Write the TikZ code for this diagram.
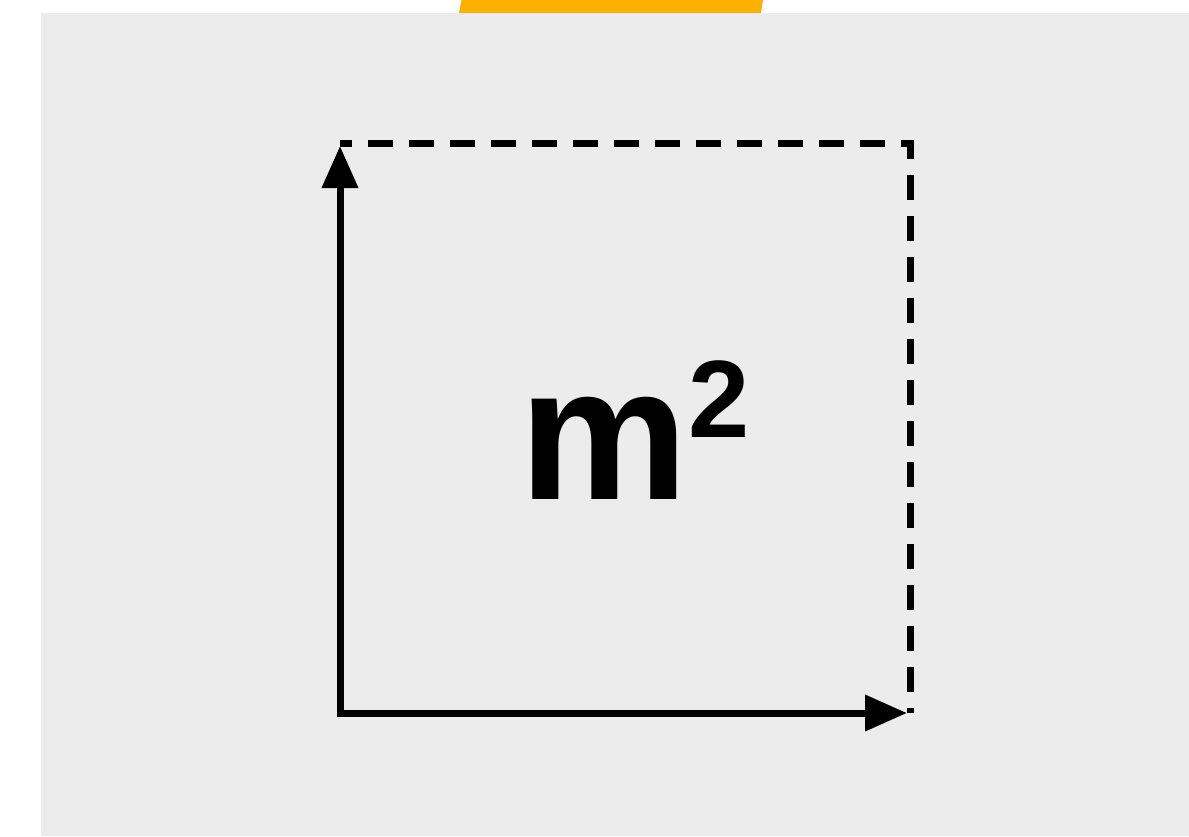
\documentclass[tikz,border=0pt]{standalone}
\usepackage{fontspec}
\setmainfont{Liberation Sans}
\usetikzlibrary{arrows.meta}
\definecolor{bggray}{HTML}{ECECEC}
\definecolor{tabor}{HTML}{FBB100}
\tikzset{
  axisline/.style={line width=7pt, line join=miter, {Triangle[length=42pt,width=35pt]}-{Triangle[length=42pt,width=35pt]}},
  dashline/.style={line width=7pt, line join=miter, dash pattern=on 25pt off 16pt, dash phase=13pt},
}
\begin{document}
\begin{tikzpicture}[x=1pt,y=-1pt]
\useasboundingbox (0,0) rectangle (1189,836);
\fill[white] (0,0) rectangle (1189,836);
\fill[bggray] (41,13) rectangle (1189,836);
\fill[tabor] (461.5,0) -- (763,0) -- (761,13) -- (459,13) -- cycle;
\coordinate (tl) at (340,143);
\coordinate (tr) at (910,143);
\coordinate (br) at (910,713);
\coordinate (bl) at (340,713);
\coordinate (tipup) at (340,146);
\coordinate (tipright) at (907,713);
\draw[dashline] (tl) -- (tr) -- (br);
\draw[axisline] (tipup) -- (bl) -- (tipright);
\node[anchor=base west, inner sep=0pt, font=\bfseries] (unit) at (519,499)
  {\fontsize{190}{190}\selectfont m\raisebox{62pt}{\fontsize{110}{110}\selectfont 2}};
\end{tikzpicture}
\end{document}
